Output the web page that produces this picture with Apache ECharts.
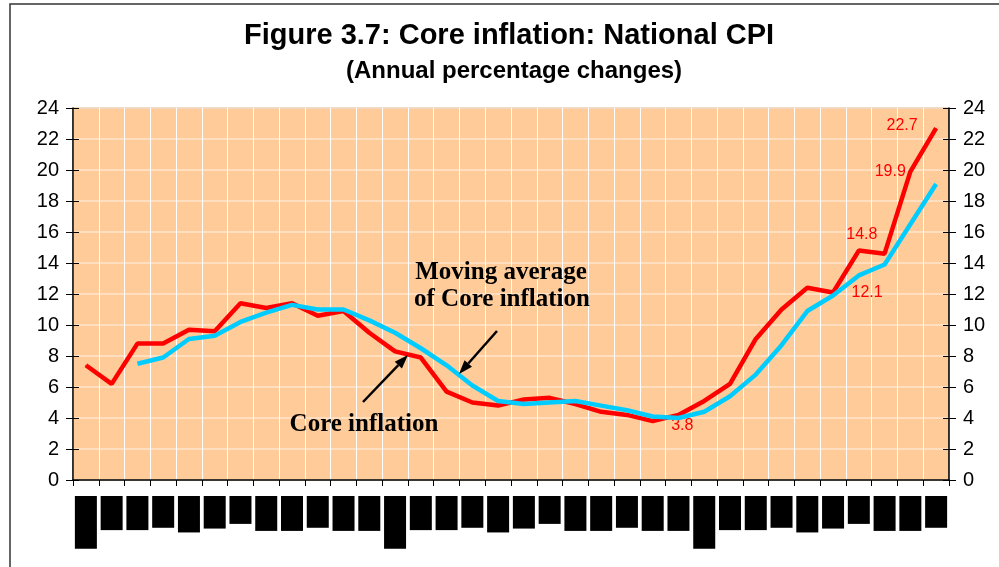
<!DOCTYPE html>
<html>
<head>
<meta charset="utf-8">
<title>Core inflation: National CPI</title>
<script src="https://cdn.jsdelivr.net/npm/echarts@6/dist/echarts.min.js"></script>
<style>
    html, body { margin: 0; padding: 0; background: #fff; }
    #viz { width: 999px; height: 567px; }
</style>
</head>
<body>
<div id="viz"></div>
<script>
// Core inflation (National CPI), annual percentage changes, monthly

const months = [
    'Jan-06', 'Feb', 'Mar', 'Apr', 'May', 'Jun', 'Jul', 'Aug', 'Sep', 'Oct', 'Nov', 'Dec',
    'Jan-07', 'Feb', 'Mar', 'Apr', 'May', 'Jun', 'Jul', 'Aug', 'Sep', 'Oct', 'Nov', 'Dec',
    'Jan-08', 'Feb', 'Mar', 'Apr', 'May', 'Jun', 'Jul', 'Aug', 'Sep', 'Oct'
];

const coreInflation = [
    7.4, 6.2, 8.8, 8.8, 9.7, 9.6, 11.4, 11.1, 11.4, 10.6, 10.9, 9.5,
    8.3, 7.9, 5.7, 5.0, 4.8, 5.2, 5.3, 4.9, 4.4, 4.2, 3.8, 4.2,
    5.1, 6.2, 9.1, 11.0, 12.4, 12.1, 14.8, 14.6, 19.9, 22.7
];

const movingAverage = [
    null, null, 7.5, 7.9, 9.1, 9.3, 10.2, 10.8, 11.3, 11.0, 11.0, 10.3,
    9.5, 8.5, 7.4, 6.1, 5.1, 4.9, 5.0, 5.1, 4.8, 4.5, 4.1, 4.0,
    4.4, 5.4, 6.8, 8.7, 10.9, 11.9, 13.2, 13.9, 16.5, 19.1
];

const yMin = 0;
const yMax = 24;
const yStep = 2;

// points of the core inflation line that carry a value label
const labelledPoints = [22, 29, 30, 32, 33];

const labelPlace = {
    22: { position: 'right', distance: 18, offset: [0, 4] },
    29: { position: 'right', distance: 18 },
    30: { position: 'top', distance: 8, offset: [3, 0] },
    32: { position: 'left', distance: 4 },
    33: { position: 'left', distance: 18, offset: [0, -3] }
};

const sans = 'Liberation Sans, Arial, sans-serif';
const serif = 'Liberation Serif, Times New Roman, serif';

function coreData() {
    return coreInflation.map((v, i) => {
        if (labelledPoints.indexOf(i) < 0) return v;
        return {
            value: v,
            label: Object.assign({
                show: true,
                color: '#ff0000',
                fontSize: 16,
                fontFamily: sans,
                formatter: p => p.value.toFixed(1)
            }, labelPlace[i])
        };
    });
}

// simple black arrow for the annotations
function arrow(x1, y1, x2, y2) {
    const ang = Math.atan2(y2 - y1, x2 - x1);
    const len = 14, half = 5;
    const bx = x2 - len * Math.cos(ang), by = y2 - len * Math.sin(ang);
    const nx = -Math.sin(ang), ny = Math.cos(ang);
    return [
        {
            type: 'line',
            shape: { x1: x1, y1: y1, x2: bx, y2: by },
            style: { stroke: '#000', lineWidth: 2.5 },
            z: 50
        },
        {
            type: 'polygon',
            shape: { points: [[x2, y2], [bx + nx * half, by + ny * half], [bx - nx * half, by - ny * half]] },
            style: { fill: '#000' },
            z: 50
        }
    ];
}

function createChart() {
    var myChart = echarts.init(document.getElementById('viz'));

    const yAxisBase = {
        type: 'value',
        min: yMin,
        max: yMax,
        interval: yStep,
        axisLine: { show: true, lineStyle: { color: '#000', width: 1.5 } },
        axisTick: { show: true, inside: false, length: 7, lineStyle: { color: '#000', width: 1 } },
        axisLabel: { color: '#000', fontSize: 20, fontFamily: sans, margin: 14 },
        splitLine: { show: false }
    };

    const tickOnly = {
        type: 'value',
        min: yMin,
        max: yMax,
        interval: yStep,
        axisLine: { show: false },
        axisTick: { show: true, inside: true, length: 6, lineStyle: { color: '#000', width: 1 } },
        axisLabel: { show: false },
        splitLine: { show: false }
    };

    var option = {
        backgroundColor: '#ffffff',
        animation: false,
        title: [
            {
                text: 'Figure 3.7: Core inflation: National CPI',
                left: 244,
                top: 21,
                padding: 0,
                textStyle: { fontSize: 29, fontWeight: 'bold', color: '#000', fontFamily: sans }
            },
            {
                text: '(Annual percentage changes)',
                left: 346,
                top: 59,
                padding: 0,
                textStyle: { fontSize: 24, fontWeight: 'bold', color: '#000', fontFamily: sans }
            }
        ],
        grid: {
            left: 73,
            right: 50,
            top: 108,
            bottom: 87,
            show: true,
            backgroundColor: '#ffcc99',
            borderColor: '#808080',
            borderWidth: 1
        },
        xAxis: [
            {
                type: 'category',
                data: months,
                boundaryGap: true,
                axisLine: { show: true, lineStyle: { color: '#000', width: 1.5 } },
                axisTick: { show: true, interval: 0, length: 6, lineStyle: { color: '#000' } },
                axisLabel: {
                    interval: 0,
                    rotate: 90,
                    margin: 16,
                    color: '#000',
                    backgroundColor: '#000',
                    fontSize: 14,
                    fontFamily: sans,
                    lineHeight: 22,
                    padding: [0, 5]
                },
                splitLine: { show: true, interval: 0, lineStyle: { color: '#ffffff', width: 1 } }
            },
            {
                type: 'category',
                data: months,
                boundaryGap: true,
                axisLine: { show: false },
                axisTick: { show: true, inside: true, interval: 0, length: 6, lineStyle: { color: '#000' } },
                axisLabel: { show: false },
                splitLine: { show: false }
            }
        ],
        yAxis: [
            Object.assign({}, yAxisBase, {
                position: 'left',
                splitLine: { show: true, lineStyle: { color: '#ffe6cc', width: 1.5 } }
            }),
            Object.assign({}, yAxisBase, { position: 'right' }),
            Object.assign({}, tickOnly, { position: 'left' }),
            Object.assign({}, tickOnly, { position: 'right' })
        ],
        series: [
            {
                name: 'Core inflation',
                type: 'line',
                data: coreData(),
                showSymbol: true,
                symbol: 'circle',
                symbolSize: 1,
                lineStyle: { color: '#ff0000', width: 4.5 },
                itemStyle: { color: '#ff0000' },
                z: 3
            },
            {
                name: 'Moving average of Core inflation',
                type: 'line',
                data: movingAverage,
                showSymbol: false,
                symbol: 'none',
                lineStyle: { color: '#00ccff', width: 4.5 },
                itemStyle: { color: '#00ccff' },
                z: 4
            }
        ],
        graphic: [
            {
                type: 'rect',
                shape: { x: 10, y: 4, width: 1200, height: 800 },
                style: { fill: 'none', stroke: '#333', lineWidth: 1.5 },
                silent: true
            },
            {
                type: 'text',
                x: 501,
                y: 273,
                style: {
                    text: 'Moving average',
                    font: 'bold 25px ' + serif,
                    fill: '#000',
                    textAlign: 'center',
                    textVerticalAlign: 'middle'
                },
                z: 50
            },
            {
                type: 'text',
                x: 502,
                y: 300,
                style: {
                    text: 'of Core inflation',
                    font: 'bold 25px ' + serif,
                    fill: '#000',
                    textAlign: 'center',
                    textVerticalAlign: 'middle'
                },
                z: 50
            },
            {
                type: 'text',
                x: 364,
                y: 425,
                style: {
                    text: 'Core inflation',
                    font: 'bold 25px ' + serif,
                    fill: '#000',
                    textAlign: 'center',
                    textVerticalAlign: 'middle'
                },
                z: 50
            }
        ].concat(arrow(363, 402, 408, 355), arrow(497, 331, 459, 374))
    };

    myChart.setOption(option);
}

createChart();
</script>
</body>
</html>
